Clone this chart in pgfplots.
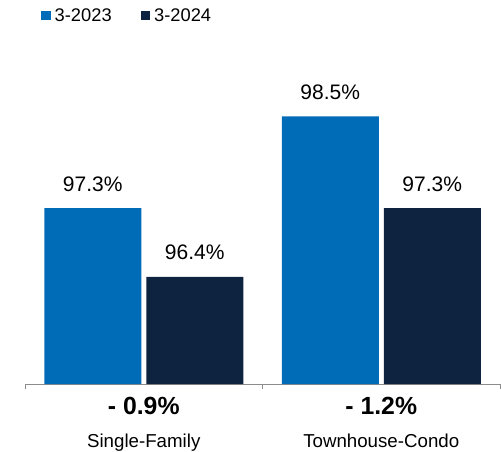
\documentclass[border=0pt]{standalone}
\usepackage{pgfplots}
\pgfplotsset{compat=1.18}
\usepackage{fontspec}
\setmainfont{Liberation Sans}
\definecolor{barblue}{RGB}{0,107,182}
\definecolor{barnavy}{RGB}{14,35,64}
\definecolor{axgray}{RGB}{140,140,140}
\begin{document}
\begin{tikzpicture}
\useasboundingbox (0,0) rectangle (501pt,451pt);
\begin{axis}[
  at={(25pt,67pt)}, anchor=south west,
  scale only axis, width=475pt, height=305.8pt,
  xmin=-0.5, xmax=1.5, ymin=95, ymax=99,
  ybar=5pt, bar width=97pt,
  clip=false,
  hide y axis,
  axis x line*=bottom,
  x axis line style={draw=axgray, line width=0.8pt, -},
  xtick={-0.5,0.5,1.5}, xticklabels={},
  major tick length=5pt, tick align=outside,
  xtick style={draw=axgray, line width=0.8pt},
  /pgf/number format/assume math mode=true,
  nodes near coords={\pgfmathprintnumber[fixed,fixed zerofill,precision=1,assume math mode=true]{\pgfplotspointmeta}\%},
  every node near coord/.append style={font=\fontsize{21}{24}\selectfont, anchor=base, yshift=17pt, text=black},
  legend columns=2,
  legend style={at={(axis description cs:0.0337,1.236)}, anchor=north west,
    draw=none, fill=none, inner sep=0pt,
    font=\fontsize{18.3}{22}\selectfont,
    nodes={inner sep=2pt},
    /tikz/every even column/.append style={column sep=27pt}},
  legend image code/.code={\fill[#1] (0pt,-5pt) rectangle (9.5pt,4.5pt); \path (11.5pt,0pt);},
]
\addplot[fill=barblue, draw=none] coordinates {(0,97.3) (1,98.5)};
\addlegendentry{3-2023}
\addplot[fill=barnavy, draw=none] coordinates {(0,96.4) (1,97.3)};
\addlegendentry{3-2024}
\node[anchor=base, font=\bfseries\fontsize{24.8}{28}\selectfont, yshift=-30pt] at (axis cs:0,95) {- 0.9\%};
\node[anchor=base, font=\bfseries\fontsize{24.8}{28}\selectfont, yshift=-30pt] at (axis cs:1,95) {- 1.2\%};
\node[anchor=base, font=\fontsize{18.7}{22}\selectfont, yshift=-63.5pt] at (axis cs:0,95) {Single-Family};
\node[anchor=base, font=\fontsize{18.7}{22}\selectfont, yshift=-63.5pt] at (axis cs:1,95) {Townhouse-Condo};
\end{axis}
\end{tikzpicture}
\end{document}
